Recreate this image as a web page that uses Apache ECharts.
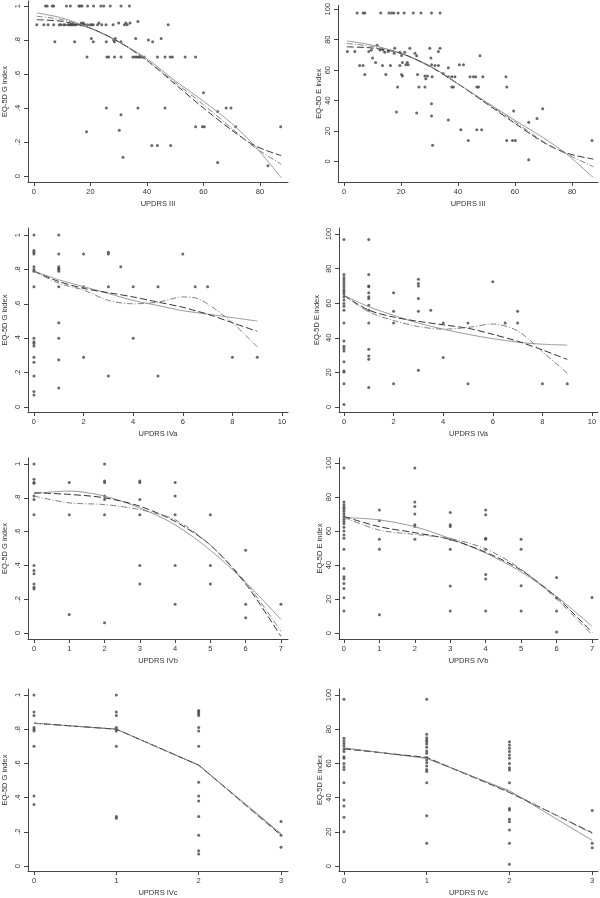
<!DOCTYPE html>
<html>
<head>
<meta charset="utf-8">
<script src="https://cdn.jsdelivr.net/npm/echarts@6/dist/echarts.min.js"></script>
<style>
  html, body { margin: 0; padding: 0; background: #fff; }
  #main { width: 600px; height: 898px; }
</style>
</head>
<body>
<div id="main"></div>
<script>
// ---- data ----
// UPDRS III  vs  EQ-5D G index
var gIIIPts = [
  [4.1,1],[4.7,1],[6.5,1],[7,1],[11.5,1],[12.9,1],[15.9,1],[16.4,1],[17,1],[19,1],[21.1,1],[23.7,1],[24.7,1],[27,1],[30.8,1],[33.8,1],
  [1,.89],[3.5,.89],[5,.89],[7,.89],[9,.89],[9.5,.89],[10.5,.89],[11,.89],[12,.89],[12.5,.89],[13,.89],[13.5,.89],[14,.89],[14.5,.89],[15,.89],
  [16.5,.89],[17,.89],[17.5,.89],[18,.89],[19,.89],[20,.89],[20.5,.89],[21,.89],[22.5,.89],[24,.89],[25.5,.89],[28,.89],[32,.89],[33,.89],[47.5,.89],
  [23,.9],[30,.9],[32.5,.9],[34,.9],[36.8,.91],[16.8,.9],[17.5,.9],
  [7.4,.79],[14.4,.79],[25.6,.79],[28.2,.8],[28.5,.79],[30.8,.79],[20.3,.81],[21,.79],[28.8,.81],[36,.81],[45,.81],[40.5,.8],[42,.79],
  [18.8,.7],[25.8,.7],[26.4,.7],[28.5,.7],[30.8,.7],[35,.7],[35.8,.7],[36.4,.7],[37,.7],[37.6,.7],[38.2,.7],[39,.7],[43.7,.7],[46.4,.7],[48.2,.7],[49,.7],[53.5,.7],[57.2,.7],
  [60,.49],[25.6,.4],[36.8,.4],[46.4,.4],[68,.4],[69.7,.4],[65,.38],[30.8,.36],
  [57.2,.29],[59.6,.29],[60.3,.29],[71.4,.29],[87.3,.29],[30.2,.27],[18.6,.26],
  [41.7,.18],[43.7,.18],[48.4,.18],[31.5,.11],[65,.08],[82.8,.06]
];
var gIIIFitX    = [1, 10, 20, 30, 40, 50, 60, 70, 78, 87.5];
var gIIISolid   = [.96, .93, .87, .79, .69, .56, .44, .31, .18, -.01];
var gIIIDash    = [.92, .91, .87, .79, .68, .54, .40, .27, .18, .12];
var gIIIDashDot = [.94, .92, .87, .79, .68, .55, .42, .28, .17, .07];

// UPDRS III  vs  EQ-5D E index
var eIIIPts = [
  [4.6,97.5],[6.7,97.5],[7.3,97.5],[12.9,97.5],[15.8,97.5],[16.7,97.5],[17.5,97.5],[19,97.5],[21.1,97.5],[24.3,97.5],[27,97.5],[30.7,97.5],[33.7,97.5],
  [1.2,72.2],[3.8,72.2],[8.7,72.2],[9.6,73.2],[11.6,76.4],[12.6,73.2],[13.7,73.2],[14.3,71.7],[15.5,72.2],[17.6,71.1],[17.8,74.3],[19.6,71.7],[20.2,69.6],
  [21.3,71.7],[23.1,74.3],[24.9,71.1],[25.5,69.4],[30.1,74.3],[30.5,67.9],[33.1,72.2],[33.7,74.3],[47.7,69.4],
  [5.5,63],[6.7,63],[13.5,63],[16.3,63],[19.6,63],[20.5,65],[21.7,63.6],[22.5,63.6],[22.2,65],[30.7,63.6],[31.9,63],[33.1,63],[40.5,63.6],[41.9,63.6],[11.1,65],[10,67.9],
  [7.3,57.2],[14.7,57.2],[20.2,57.2],[20.5,56.1],[25.8,57.2],[28.4,56.1],[30.9,55.7],[34.8,57.8],[36.6,55.7],[37.8,55.7],[38.9,55.7],[44.2,55.7],
  [45.4,55.7],[46.2,55.7],[48.7,55.7],[56.8,55.7],[36.6,61.5],[28.7,54.4],[29.3,56.1],
  [18.8,49],[26.3,49],[28.4,49],[37.8,49],[38.4,49],[46.6,49],[47.2,49],[57.1,49],
  [18.4,32.5],[25.5,31.9],[30.7,29.8],[30.7,37.9],[36.6,27.2],[41,20.8],[46.6,20.8],[48.3,20.8],[43.6,13.7],[31.1,10.7],
  [57.1,13.7],[59.1,13.7],[60.1,13.7],[59.5,33.2],[64.8,25.7],[67.7,28.3],[69.7,34.7],[64.8,1.1],[87,13.7]
];
var eIIIFitX    = [1, 10, 20, 30, 40, 50, 60, 70, 78, 87.5];
var eIIISolid   = [79.2, 76.4, 71, 63, 51, 39, 27, 15.5, 5, -10.7];
var eIIIDash    = [75.3, 74.5, 71, 62.5, 51, 38, 25, 12.5, 5.5, 1.5];
var eIIIDashDot = [77.5, 75.5, 71, 62.5, 51, 38.5, 26, 13, 5, -3.5];

// UPDRS IVa  vs  G index
var gIVaPts = [
  [0,1],[0,.91],[0,.9],[0,.89],[0,.815],[0,.8],[0,.79],[0,.7],[0,.4],[0,.38],[0,.37],[0,.355],[0,.29],[0,.26],[0,.18],[0,.09],[0,.07],
  [1,1],[1,.89],[1,.815],[1,.805],[1,.8],[1,.79],[1,.7],[1,.49],[1,.4],[1,.275],[1,.11],
  [2,.89],[2,.7],[2,.29],
  [3,.9],[3,.89],[3,.7],[3,.18],[3.5,.815],
  [4,.7],[4,.4],[5,.7],[5,.18],[6,.89],[6.5,.7],[7,.7],[8,.29],[9,.29]
];
var gIVaFitX    = [0, 1, 2, 3, 4, 5, 6, 6.5, 7, 8, 9];
var gIVaSolid   = [.79, .74, .70, .66, .62, .59, .56, .55, .54, .52, .50];
var gIVaDash    = [.79, .73, .69, .665, .64, .61, .58, .56, .54, .49, .44];
var gIVaDashDot = [.79, .72, .68, .62, .60, .61, .64, .635, .60, .49, .35];

// UPDRS IVa  vs  E index
var eIVaPts = [
  [0,96.9],[0,76.6],[0,74.9],[0,73.4],[0,72],[0,70.5],[0,69.1],[0,67.6],[0,66.6],[0,65.3],[0,63.7],[0,61.8],[0,59.8],[0,58.3],[0,56],
  [0,48.6],[0,38.2],[0,35.1],[0,33.8],[0,32.4],[0,26.1],[0,20.8],[0,20.3],[0,13.5],[0,1.5],
  [1,96.9],[1,76.6],[1,70],[1,69.5],[1,66],[1,63.7],[1,62.7],[1,58.9],[1,56],[1,48.6],[1,33.4],[1,29.5],[1,27.6],[1,11.2],
  [2,66],[2,55.4],[2,48.6],[2,13.5],
  [3,73.9],[3,71.4],[3,69.9],[3,62.7],[3,55.4],[3,21.2],[3.5,56],
  [4,48.6],[4,28.6],[5,48.6],[5,13.5],[6,72.4],[6.5,48.6],[7,55.4],[7,48.6],[8,13.5],[9,13.5]
];
var eIVaFitX    = [0, 1, 2, 3, 4, 5, 6, 7, 8, 9];
var eIVaSolid   = [64.5, 58, 53, 48.5, 45, 42, 39.5, 37.5, 36.3, 35.8];
var eIVaDash    = [64.5, 56, 52, 49.5, 47.5, 45.5, 42, 38, 33, 27.5];
var eIVaDashDot = [64.5, 55, 50, 46.5, 45, 46, 48, 44, 32, 19.5];

// UPDRS IVb  vs  G index
var gIVbPts = [
  [0,1],[0,.91],[0,.89],[0,.886],[0,.81],[0,.79],[0,.7],[0,.4],[0,.37],[0,.35],[0,.29],[0,.27],[0,.26],
  [1,.89],[1,.7],[1,.11],
  [2,1],[2,.9],[2,.89],[2,.81],[2,.79],[2,.7],[2,.06],
  [3,.9],[3,.89],[3,.79],[3,.7],[3,.4],[3,.29],
  [4,.89],[4,.81],[4,.7],[4,.4],[4,.17],
  [5,.7],[5,.4],[5,.29],
  [6,.49],[6,.17],[6,.09],[7,.17]
];
var gIVbFitX    = [0, 1, 2, 3, 4, 5, 6, 7];
var gIVbSolid   = [.825, .84, .81, .74, .64, .49, .30, .08];
var gIVbDash    = [.83, .82, .80, .75, .66, .52, .29, -.02];
var gIVbDashDot = [.81, .77, .76, .73, .67, .52, .30, .01];

// UPDRS IVb  vs  E index
var eIVbPts = [
  [0,97],[0,77],[0,75.4],[0,74],[0,72.8],[0,71.5],[0,70],[0,68.5],[0,66.9],[0,65.6],[0,64.2],[0,62.2],[0,60],[0,57.7],[0,55.7],
  [0,49.2],[0,38],[0,33.1],[0,31.7],[0,29.1],[0,26.2],[0,20.7],[0,13],
  [1,72.4],[1,66],[1,55.1],[1,49.2],[1,10.8],
  [2,97],[2,77],[2,74.4],[2,70],[2,63.6],[2,62.6],[2,55.1],
  [3,70.9],[3,63.6],[3,62.6],[3,55.1],[3,49.2],[3,27.6],[3,13],
  [4,72.4],[4,69.5],[4,55.7],[4,55.1],[4,49.2],[4,34.4],[4,31.7],[4,13],
  [5,55.1],[5,49.2],[5,27.8],[5,13],
  [6,32.7],[6,20.7],[6,13],[6,0.6],[7,20.9]
];
var eIVbFitX    = [0, 1, 2, 3, 4, 5, 6, 7];
var eIVbSolid   = [68, 66.5, 62.5, 55.5, 47, 36, 21.5, 4];
var eIVbDash    = [68.5, 62.5, 59, 55, 47.5, 37, 21, 0.5];
var eIVbDashDot = [68, 60.5, 58, 55.5, 49.5, 37.5, 20, -1];

// UPDRS IVc  vs  G index
var gIVcPts = [
  [0,1],[0,.9],[0,.88],[0,.81],[0,.8],[0,.79],[0,.7],[0,.41],[0,.36],
  [1,1],[1,.9],[1,.88],[1,.81],[1,.8],[1,.79],[1,.7],[1,.29],[1,.28],
  [2,.91],[2,.9],[2,.89],[2,.88],[2,.81],[2,.79],[2,.7],[2,.49],[2,.41],[2,.38],[2,.29],[2,.18],[2,.09],[2,.07],
  [3,.26],[3,.18],[3,.11]
];
var gIVcFitX    = [0, 1, 2, 3];
var gIVcSolid   = [.835, .80, .59, .19];
var gIVcDash    = [.835, .80, .59, .18];
var gIVcDashDot = [.835, .80, .59, .185];

// UPDRS IVc  vs  E index
var eIVcPts = [
  [0,97.5],[0,74.7],[0,73.1],[0,71.7],[0,70.2],[0,68.4],[0,66.9],[0,63.9],[0,63],[0,60],[0,58.1],[0,56.5],[0,48.7],[0,38.6],[0,35.1],[0,28.5],[0,20.1],
  [1,97.5],[1,77],[1,75],[1,73.7],[1,72.7],[1,71.3],[1,69.4],[1,67.3],[1,65.9],[1,63.5],[1,62],[1,60.4],[1,58.5],[1,56.5],[1,55.2],[1,48.7],[1,29.4],[1,13.3],
  [2,72.7],[2,70.8],[2,68.8],[2,66.9],[2,64.9],[2,63],[2,60],[2,57.5],[2,56.1],[2,48.7],[2,33.7],[2,32.7],[2,27.3],[2,25.9],[2,21.1],[2,13.3],[2,1],
  [3,32.4],[3,13.3],[3,10.7]
];
var eIVcFitX    = [0, 1, 2, 3];
var eIVcSolid   = [69, 63, 44, 15];
var eIVcDash    = [68.5, 63.5, 43, 19.5];
var eIVcDashDot = [69, 63, 43.5, 19];

var gTicks   = [0, .2, .4, .6, .8, 1];
var eTicks   = [0, 20, 40, 60, 80, 100];
var xIIITicks = [0, 20, 40, 60, 80];
var xIVaTicks = [0, 2, 4, 6, 8, 10];
var xIVbTicks = [0, 1, 2, 3, 4, 5, 6, 7];
var xIVcTicks = [0, 1, 2, 3];

// ---- panels ----
var panels = [
  {box:[27,1,261,181],   x:[-2.1,89.9],  y:[-0.035,1.03], xt:xIIITicks, yt:gTicks, xn:'UPDRS III', yn:'EQ-5D G index', gap:19,
   pts:gIIIPts, fx:gIIIFitX, s:gIIISolid, d:gIIIDash, dd:gIIIDashDot, smooth:0.3},
  {box:[338,1,260,181],  x:[-2.1,89.1],  y:[-13.5,102.6], xt:xIIITicks, yt:eTicks, xn:'UPDRS III', yn:'EQ-5D E index', gap:11,
   pts:eIIIPts, fx:eIIIFitX, s:eIIISolid, d:eIIIDash, dd:eIIIDashDot, smooth:0.3},
  {box:[27,228,261,184], x:[-0.24,10.24], y:[-0.029,1.041], xt:xIVaTicks, yt:gTicks, xn:'UPDRS IVa', yn:'EQ-5D G index', gap:19,
   pts:gIVaPts, fx:gIVaFitX, s:gIVaSolid, d:gIVaDash, dd:gIVaDashDot, smooth:0.3},
  {box:[339,228,259,184],x:[-0.2,10.24],  y:[-2.9,103.5],  xt:xIVaTicks, yt:eTicks, xn:'UPDRS IVa', yn:'EQ-5D E index', gap:18,
   pts:eIVaPts, fx:eIVaFitX, s:eIVaSolid, d:eIVaDash, dd:eIVaDashDot, smooth:0.3},
  {box:[27,458,261,181], x:[-0.17,7.2],   y:[-0.0355,1.0355], xt:xIVbTicks, yt:gTicks, xn:'UPDRS IVb', yn:'EQ-5D G index', gap:19,
   pts:gIVbPts, fx:gIVbFitX, s:gIVbSolid, d:gIVbDash, dd:gIVbDashDot, smooth:0.3},
  {box:[339,458,259,181],x:[-0.14,7.17],  y:[-3.5,102.9],  xt:xIVbTicks, yt:eTicks, xn:'UPDRS IVb', yn:'EQ-5D E index', gap:11,
   pts:eIVbPts, fx:eIVbFitX, s:eIVbSolid, d:eIVbDash, dd:eIVbDashDot, smooth:0.3},
  {box:[27,689,261,183], x:[-0.073,3.085],y:[-0.029,1.035], xt:xIVcTicks, yt:gTicks, xn:'UPDRS IVc', yn:'EQ-5D G index', gap:19,
   pts:gIVcPts, fx:gIVcFitX, s:gIVcSolid, d:gIVcDash, dd:gIVcDashDot, smooth:0},
  {box:[339,689,259,182],x:[-0.06,3.07],  y:[-2.9,103.5],  xt:xIVcTicks, yt:eTicks, xn:'UPDRS IVc', yn:'EQ-5D E index', gap:11,
   pts:eIVcPts, fx:eIVcFitX, s:eIVcSolid, d:eIVcDash, dd:eIVcDashDot, smooth:0}
];

var font = "'Liberation Sans', Arial, sans-serif";
var axisCol = '#444';

function yFmt(v) {
  if (v === 0) return '0';
  if (v === 1) return '1';
  if (v < 1) return String(v).replace(/^0/, '');
  return String(v);
}

function pairs(xs, ys) {
  return xs.map(function (x, i) { return [x, ys[i]]; });
}

var grid = [], xAxis = [], yAxis = [], series = [];
panels.forEach(function (p, i) {
  grid.push({left: p.box[0], top: p.box[1], width: p.box[2], height: p.box[3]});
  xAxis.push({
    type: 'value', gridIndex: i, min: p.x[0], max: p.x[1],
    name: p.xn, nameLocation: 'middle', nameGap: 18,
    nameTextStyle: {fontFamily: font, fontSize: 7.5, color: '#333'},
    axisLine: {onZero: false, lineStyle: {color: axisCol, width: 1}},
    axisTick: {length: 4, customValues: p.xt, lineStyle: {color: axisCol}},
    axisLabel: {customValues: p.xt, margin: 6, fontFamily: font, fontSize: 7.5, color: '#333'},
    splitLine: {show: false}
  });
  yAxis.push({
    type: 'value', gridIndex: i, min: p.y[0], max: p.y[1],
    name: p.yn, nameLocation: 'middle', nameGap: p.gap,
    nameTextStyle: {fontFamily: font, fontSize: 7.5, color: '#333'},
    axisLine: {onZero: false, show: true, lineStyle: {color: axisCol, width: 1}},
    axisTick: {show: true, length: 4, customValues: p.yt, lineStyle: {color: axisCol}},
    axisLabel: {customValues: p.yt, rotate: 90, margin: 6, fontFamily: font, fontSize: 7.5, color: '#333',
      formatter: yFmt},
    splitLine: {show: false}
  });
  series.push({
    type: 'scatter', xAxisIndex: i, yAxisIndex: i, data: p.pts,
    symbol: 'circle', symbolSize: 3, itemStyle: {color: '#444'}, silent: true
  });
  // smooth grey, long dash, dash-dot
  series.push({
    type: 'line', xAxisIndex: i, yAxisIndex: i, data: pairs(p.fx, p.s), smooth: p.smooth,
    showSymbol: false, lineStyle: {color: '#9a9a9a', width: 1}, silent: true
  });
  series.push({
    type: 'line', xAxisIndex: i, yAxisIndex: i, data: pairs(p.fx, p.d), smooth: p.smooth,
    showSymbol: false, lineStyle: {color: '#333', width: 1, type: [7, 3]}, silent: true
  });
  series.push({
    type: 'line', xAxisIndex: i, yAxisIndex: i, data: pairs(p.fx, p.dd), smooth: p.smooth,
    showSymbol: false, lineStyle: {color: '#808080', width: 1, type: [6, 2, 1, 2]}, silent: true
  });
});

var myChart = echarts.init(document.getElementById('main'));
myChart.setOption({
  backgroundColor: '#fff',
  animation: false,
  grid: grid,
  xAxis: xAxis,
  yAxis: yAxis,
  series: series
});
</script>
</body>
</html>
